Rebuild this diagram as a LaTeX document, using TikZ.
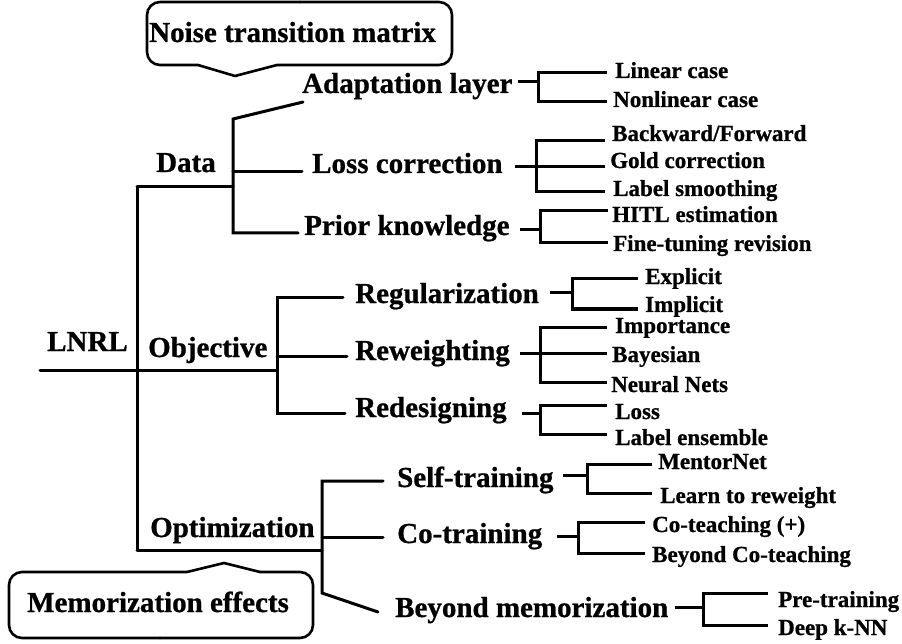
\documentclass[tikz,border=0pt]{standalone}
\usepackage{fontspec}
\setmainfont{Liberation Serif}[BoldFeatures={FakeBold=0.8}]
\begin{document}
\begin{tikzpicture}[x=1pt,y=-1pt,
  big/.style={font=\fontsize{29}{30}\selectfont\bfseries, inner sep=0pt, anchor=base west},
  small/.style={font=\fontsize{23}{24}\selectfont\bfseries, inner sep=0pt, anchor=base west},
  tree/.style={line width=3pt, line cap=round, line join=miter},
  brk/.style={line width=3pt, line join=miter},
  callout/.style={line width=2.6pt, line cap=round, rounded corners=13pt}]
\useasboundingbox (0,0) rectangle (902,644);

% ---- labels ----
\node[big] (ntm) at (149,42) {Noise transition matrix};
\node[big] (mem) at (27,612) {Memorization effects};
\node[big] (lnrl) at (47,351) {LNRL};
\node[big] (data) at (156,172) {Data};
\node[big] (obj) at (148,357) {Objective};
\node[big] (opt) at (150,537) {Optimization};
\node[big] (adapt) at (302,93) {Adaptation layer};
\node[big] (losscorr) at (312,173) {Loss correction};
\node[big] (prior) at (304,235) {Prior knowledge};
\node[big] (reg) at (355,303) {Regularization};
\node[big] (rew) at (355,360) {Reweighting};
\node[big] (red) at (355,417) {Redesigning};
\node[big] (self) at (397,487) {Self-training};
\node[big] (cot) at (397,543) {Co-training};
\node[big] (bmem) at (395,617) {Beyond memorization};

\node[small] (lin) at (615,78) {Linear case};
\node[small] (nonlin) at (613,107) {Nonlinear case};
\node[small] (bf) at (612,141) {Backward/Forward};
\node[small] (gold) at (610,168) {Gold correction};
\node[small] (ls) at (613,196) {Label smoothing};
\node[small] (hitl) at (612,222) {HITL estimation};
\node[small] (ft) at (613,251) {Fine-tuning revision};
\node[small] (expl) at (645,284) {Explicit};
\node[small] (impl) at (645,312) {Implicit};
\node[small] (imp) at (615,333) {Importance};
\node[small] (bay) at (612,362) {Bayesian};
\node[small] (nn) at (611,392) {Neural Nets};
\node[small] (loss) at (615,419) {Loss};
\node[small] (lens) at (615,445) {Label ensemble};
\node[small] (ment) at (658,469) {MentorNet};
\node[small] (ltr) at (660,503) {Learn to reweight};
\node[small] (cote) at (652,532) {Co-teaching (+)};
\node[small] (bcote) at (652,562) {Beyond Co-teaching};
\node[small] (pre) at (778,607) {Pre-training};
\node[small] (dknn) at (778,635) {Deep k-NN};

% ---- callout boxes ----
\draw[callout] (300,2) -- (452,2) -- (452,65) -- (277,65);
\draw[callout] (300,2) -- (147,2) -- (147,65) -- (198,65);
\draw[line width=2.6pt, line cap=round, line join=round] (198,65) -- (235,76) -- (277,65);

\draw[callout] (160,638) -- (313,638) -- (313,572) -- (260,572);
\draw[callout] (160,638) -- (9,638) -- (9,572) -- (187,572);
\draw[line width=2.6pt, line cap=round, line join=round] (187,572) -- (224,563) -- (260,572);

% ---- main tree coordinates ----
\coordinate (root) at (40,370);
\coordinate (tTop) at (137,187);
\coordinate (tMid) at (137,370);
\coordinate (tBot) at (137,550);
\coordinate (dJ) at (233,187);
\coordinate (dTop) at (233,119);
\coordinate (dMid) at (233,172);
\coordinate (dBot) at (233,233);
\coordinate (adaptEnd) at (303,102);
\coordinate (lossEnd) at (302,172);
\coordinate (priorEnd) at (298,233);
\coordinate (oJ) at (277,370);
\coordinate (oTop) at (277,298);
\coordinate (oMid) at (277,356);
\coordinate (oBot) at (277,413);
\coordinate (regEnd) at (343,298);
\coordinate (rewEnd) at (347,356);
\coordinate (redEnd) at (345,413);
\coordinate (pJ) at (322,550);
\coordinate (pTop) at (322,481);
\coordinate (pMid) at (322,537);
\coordinate (pBot) at (322,593);
\coordinate (selfEnd) at (383,481);
\coordinate (cotEnd) at (383,537);
\coordinate (bmemEnd) at (378,612);

\draw[tree] (root) -- (oJ);
\draw[tree] (tTop) -- (tBot);
\draw[tree] (tTop) -- (dJ);
\draw[tree] (adaptEnd) -- (dTop) -- (dBot) -- (priorEnd);
\draw[tree] (dMid) -- (lossEnd);
\draw[tree] (regEnd) -- (oTop) -- (oBot) -- (redEnd);
\draw[tree] (oMid) -- (rewEnd);
\draw[tree] (tBot) -- (pJ);
\draw[tree] (selfEnd) -- (pTop) -- (pBot) -- (bmemEnd);
\draw[tree] (pMid) -- (cotEnd);

% ---- brackets ----
% Adaptation layer
\coordinate (aS) at (518,82); \coordinate (aJ) at (538,82);
\draw[brk] (aS) -- (aJ);
\draw[brk] (607,73) -- (538,73) -- (538,102) -- (607,102);
% Loss correction
\coordinate (lS) at (515,167); \coordinate (lJ) at (536,167);
\draw[brk] (lS) -- (605,167);
\draw[brk] (605,141) -- (536,141) -- (536,192) -- (605,192);
% Prior knowledge
\coordinate (pkS) at (520,230); \coordinate (pkJ) at (540,230);
\draw[brk] (pkS) -- (pkJ);
\draw[brk] (608,211) -- (540,211) -- (540,243) -- (608,243);
% Regularization
\coordinate (rgS) at (550,293); \coordinate (rgJ) at (572,293);
\draw[brk] (rgS) -- (rgJ);
\draw[brk] (638,279) -- (572,279) -- (572,309) -- (638,309);
% Reweighting
\coordinate (rwS) at (520,353); \coordinate (rwJ) at (540,353);
\draw[brk] (rwS) -- (607,353);
\draw[brk] (607,327) -- (540,327) -- (540,382) -- (607,382);
% Redesigning
\coordinate (rdS) at (522,413); \coordinate (rdJ) at (540,413);
\draw[brk] (rdS) -- (rdJ);
\draw[brk] (607,405) -- (540,405) -- (540,434) -- (607,434);
% Self-training
\coordinate (stS) at (563,475); \coordinate (stJ) at (587,475);
\draw[brk] (stS) -- (stJ);
\draw[brk] (652,464) -- (587,464) -- (587,493) -- (652,493);
% Co-training
\coordinate (ctS) at (557,536); \coordinate (ctJ) at (578,536);
\draw[brk] (ctS) -- (ctJ);
\draw[brk] (645,522) -- (578,522) -- (578,553) -- (645,553);
% Beyond memorization
\coordinate (bmS) at (675,607); \coordinate (bmJ) at (703,607);
\draw[brk] (bmS) -- (bmJ);
\draw[brk] (768,593) -- (703,593) -- (703,625) -- (768,625);
\end{tikzpicture}
\end{document}
